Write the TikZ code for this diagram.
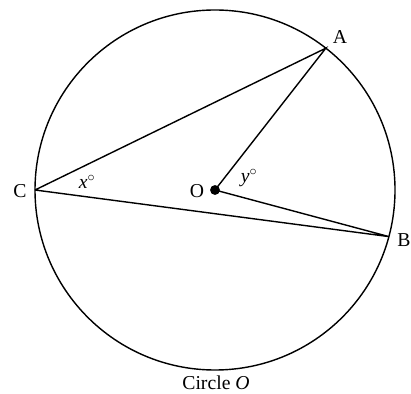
\documentclass[tikz,border=0pt]{standalone}
\usepackage{fontspec}
\setmainfont{Liberation Serif}
\begin{document}
\begin{tikzpicture}[x=0.025cm, y=0.025cm, every node/.style={font=\fontsize{14}{16}\selectfont},
  edge/.style={line width=1pt},
  lbl/.style={inner sep=0pt}]
  \useasboundingbox (0,0) rectangle (411,393);
  % circle and points on it
  \coordinate (ctr) at (215,203);
  \draw[edge] (ctr) circle (180);
  \coordinate (A) at (325.8,344.8);
  \coordinate (B) at (388.9,156.4);
  \coordinate (C) at (35,203);
  \node[circle,fill,inner sep=0pt,minimum size=7pt] (O) at (ctr) {};
  \draw[edge] (C) -- (A) -- (O.center) -- (B) -- (C);
  % labels
  \node[lbl] (la) at (340,356) {A};
  \node[lbl] (lb) at (404,153) {B};
  \node[lbl] (lc) at (20,202) {C};
  \node[lbl] (lo) at (197,202) {O};
  \node[lbl] (lx) at (87,211) {\textit{x}$^\circ$};
  \node[lbl] (ly) at (249,215) {\textit{y}$^\circ$};
  \node[lbl] (title) at (216,10) {Circle \textit{O}};
\end{tikzpicture}
\end{document}
